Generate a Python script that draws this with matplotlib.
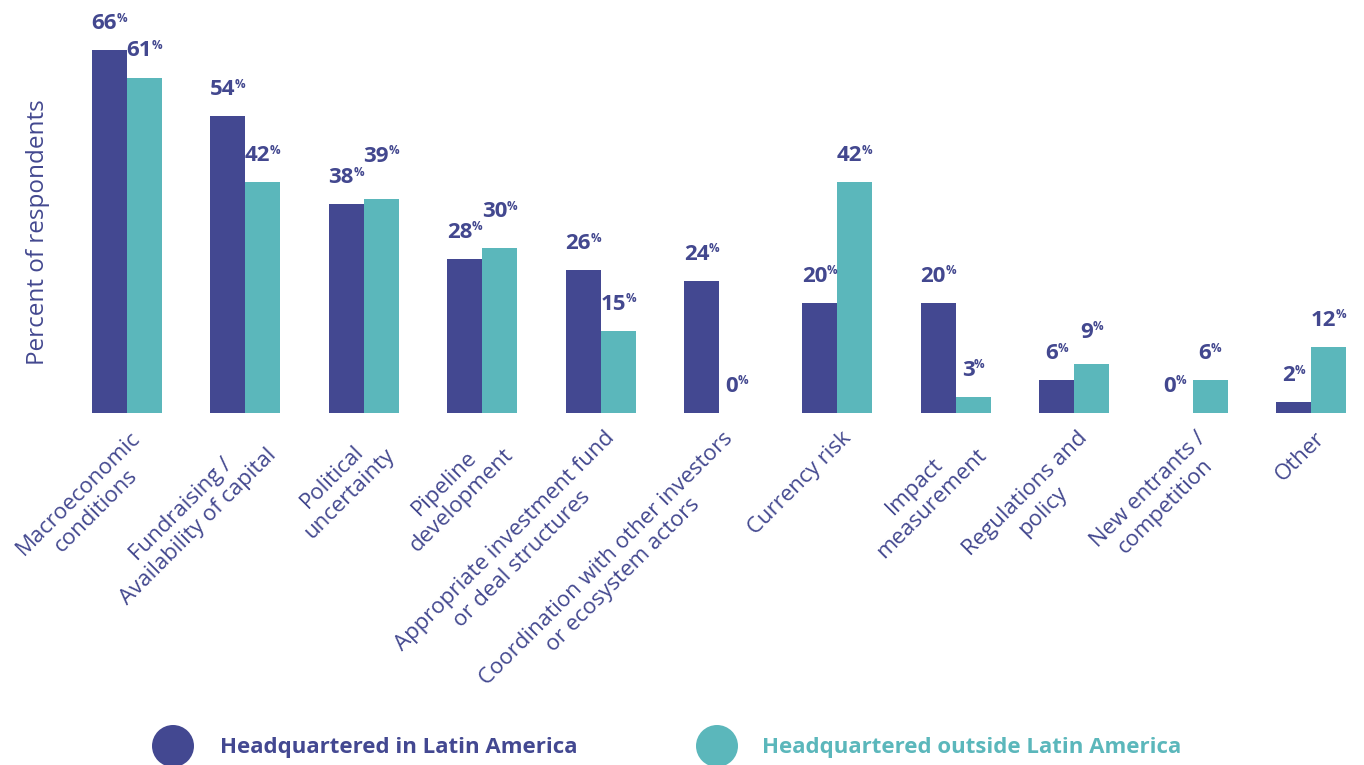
import matplotlib
matplotlib.use("Agg")
import matplotlib.pyplot as plt
from matplotlib.patches import Ellipse
from matplotlib.transforms import ScaledTranslation
import numpy as np

categories = [
    "Macroeconomic\nconditions",
    "Fundraising /\nAvailability of capital",
    "Political\nuncertainty",
    "Pipeline\ndevelopment",
    "Appropriate investment fund\nor deal structures",
    "Coordination with other investors\nor ecosystem actors",
    "Currency risk",
    "Impact\nmeasurement",
    "Regulations and\npolicy",
    "New entrants /\ncompetition",
    "Other",
]
hq_latam = [66, 54, 38, 28, 26, 24, 20, 20, 6, 0, 2]
hq_outside = [61, 42, 39, 30, 15, 0, 42, 3, 9, 6, 12]
series_names = ["Headquartered in Latin America", "Headquartered outside Latin America"]

DARK = "#434891"
TEAL = "#5BB7BB"
TEXT = "#43488F"

W, H = 1364, 765
fig = plt.figure(figsize=(W / 100, H / 100), dpi=100)
fig.patch.set_facecolor("white")

# axes: baseline at 413 px from top, group 0 centred at x=127 px, pitch 118.4 px
left_px, base_px = 60, 413
ax = fig.add_axes([left_px / W, (H - base_px) / H, 1 - left_px / W, base_px / H])
pitch = 118.4
ax.set_xlim((left_px - 127) / pitch, (W - 127) / pitch)
ax.set_ylim(0, base_px / 5.5)

x = np.arange(len(categories))
bw = 35 / pitch
ax.bar(x - bw / 2, hq_latam, width=bw, color=DARK, linewidth=0)
ax.bar(x + bw / 2, hq_outside, width=bw, color=TEAL, linewidth=0)

for s in ax.spines.values():
    s.set_visible(False)
ax.set_yticks([])

ax.set_xticks(x)
ax.set_xticklabels(categories, rotation=45, ha="right", va="top",
                   rotation_mode="anchor", multialignment="center",
                   fontsize=16, color=TEXT, family="Open Sans")
ax.tick_params(axis="x", length=0, pad=10.5)
shift = ScaledTranslation(0.03, 0, fig.dpi_scale_trans)
for lab in ax.get_xticklabels():
    lab.set_transform(lab.get_transform() + shift)

fig.text(38 / W, 1 - 232 / H, "Percent of respondents", rotation=90,
         ha="center", va="center", fontsize=17.5, color=TEXT, family="Open Sans")

# value labels: number + superscript %, centred over each bar
fig.canvas.draw()
renderer = fig.canvas.get_renderer()
label_font = {"family": "Open Sans", "weight": "bold", "color": TEXT}
GAP = 21      # px from bar top to number baseline
MIN_SEP = 21  # px minimum vertical separation of neighbouring labels


def to_px(v):
    return ax.transData.transform((0, v))[1] - ax.transData.transform((0, 0))[1]


for i in range(len(categories)):
    d, t = hq_latam[i], hq_outside[i]
    lift_t = 0.0
    sep = to_px(t) - to_px(d)
    if 0 <= sep < MIN_SEP:
        lift_t = MIN_SEP - sep
    for xc, v, lift in ((x[i] - bw / 2, d, 0.0), (x[i] + bw / 2, t, lift_t)):
        num = ax.annotate(f"{v}", (xc, v), xytext=(0, GAP + lift),
                          textcoords="offset pixels", ha="left", va="baseline",
                          fontsize=16, **label_font)
        pct = ax.annotate("%", (xc, v), xytext=(0, GAP + lift + 7.5),
                          textcoords="offset pixels", ha="left", va="baseline",
                          fontsize=8.5, **label_font)
        wn = num.get_window_extent(renderer).width
        wp = pct.get_window_extent(renderer).width
        x0 = -(wn + wp - 0.5) / 2
        num.xyann = (x0, GAP + lift)
        pct.xyann = (x0 + wn - 0.5, GAP + lift + 7.5)

# legend
legend_items = [(173, 220, DARK), (717, 762, TEAL)]
for (cx, tx, col), name in zip(legend_items, series_names):
    fig.add_artist(Ellipse((cx / 100, (H - 746) / 100), 0.42, 0.42,
                           transform=fig.dpi_scale_trans, color=col, linewidth=0))
    fig.text(tx / W, 1 - 747 / H, name, ha="left", va="center", fontsize=16,
             color=col, weight="bold", family="Open Sans")

fig.savefig("out.png", dpi=100, facecolor="white")
